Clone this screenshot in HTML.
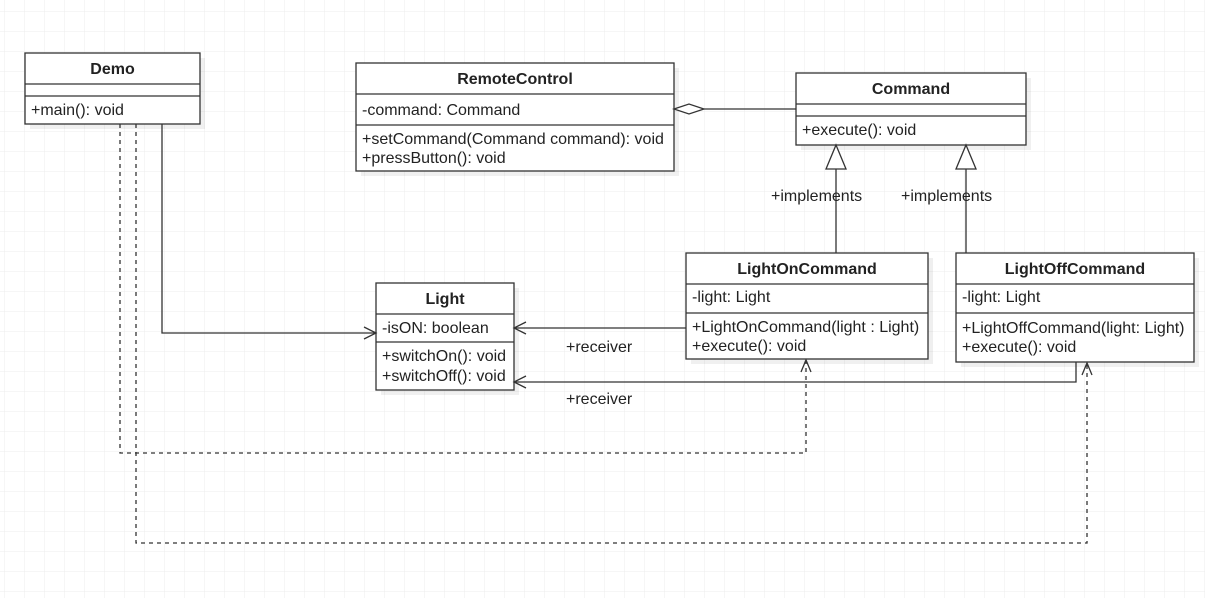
<!DOCTYPE html>
<html><head><meta charset="utf-8"><style>
html,body{margin:0;padding:0;background:#fff}
svg{display:block}
text{font-family:"Liberation Sans",Arial,sans-serif;font-size:16px;fill:#222}
.b{font-weight:bold;text-anchor:middle}
</style></head><body>
<svg width="1205" height="598" viewBox="0 0 1205 598" xmlns="http://www.w3.org/2000/svg">
<defs>
<pattern id="g" width="20" height="20" patternUnits="userSpaceOnUse" x="4" y="11">
<path d="M20 0H0V20" fill="none" stroke="#ececec" stroke-width="1"/>
</pattern>
</defs>
<rect width="1205" height="598" fill="#fff"/>
<rect width="1205" height="598" fill="url(#g)"/>
<g fill="#000" opacity="0.06">
<rect x="30" y="58" width="175" height="71"/>
<rect x="361" y="68" width="318" height="108"/>
<rect x="801" y="78" width="230" height="72"/>
<rect x="381" y="288" width="138" height="107"/>
<rect x="691" y="258" width="242" height="106"/>
<rect x="961" y="258" width="238" height="109"/>
</g>
<g fill="#fff" stroke="#333" stroke-width="1.3">
<rect x="25" y="53" width="175" height="71"/>
<line x1="25" y1="84" x2="200" y2="84"/><line x1="25" y1="96" x2="200" y2="96"/>
<rect x="356" y="63" width="318" height="108"/>
<line x1="356" y1="94" x2="674" y2="94"/><line x1="356" y1="125" x2="674" y2="125"/>
<rect x="796" y="73" width="230" height="72"/>
<line x1="796" y1="104" x2="1026" y2="104"/><line x1="796" y1="116" x2="1026" y2="116"/>
<rect x="376" y="283" width="138" height="107"/>
<line x1="376" y1="314" x2="514" y2="314"/><line x1="376" y1="342" x2="514" y2="342"/>
<rect x="686" y="253" width="242" height="106"/>
<line x1="686" y1="284" x2="928" y2="284"/><line x1="686" y1="313" x2="928" y2="313"/>
<rect x="956" y="253" width="238" height="109"/>
<line x1="956" y1="284" x2="1194" y2="284"/><line x1="956" y1="313" x2="1194" y2="313"/>
</g>
<text class="b" x="112.5" y="74">Demo</text>
<text x="31" y="115">+main(): void</text>
<text class="b" x="515" y="84">RemoteControl</text>
<text x="362" y="115">-command: Command</text>
<text x="362" y="144">+setCommand(Command command): void</text>
<text x="362" y="163">+pressButton(): void</text>
<text class="b" x="911" y="94">Command</text>
<text x="802" y="135">+execute(): void</text>
<text class="b" x="445" y="304">Light</text>
<text x="382" y="333">-isON: boolean</text>
<text x="382" y="361">+switchOn(): void</text>
<text x="382" y="381">+switchOff(): void</text>
<text class="b" x="807" y="274">LightOnCommand</text>
<text x="692" y="302">-light: Light</text>
<text x="692" y="332">+LightOnCommand(light : Light)</text>
<text x="692" y="351">+execute(): void</text>
<text class="b" x="1075" y="274">LightOffCommand</text>
<text x="962" y="302">-light: Light</text>
<text x="962" y="333">+LightOffCommand(light: Light)</text>
<text x="962" y="352">+execute(): void</text>
<g fill="none" stroke="#333" stroke-width="1.3">
<line x1="704" y1="109" x2="796" y2="109"/>
<path d="M674 109 L689 104 L704 109 L689 114 Z" fill="#fff"/>
<line x1="836" y1="169" x2="836" y2="253"/>
<path d="M836 145 L846 169 L826 169 Z" fill="#fff"/>
<line x1="966" y1="169" x2="966" y2="253"/>
<path d="M966 145 L976 169 L956 169 Z" fill="#fff"/>
<path d="M162 124 V333 H376"/>
<path d="M364 327 L376 333 L364 339"/>
<path d="M686 328 H514"/>
<path d="M526 322 L514 328 L526 334"/>
<path d="M1076 362 V382 H514"/>
<path d="M526 376 L514 382 L526 388"/>
<path d="M120 124 V453 H806 V360" stroke-dasharray="4 4"/>
<path d="M801 372 L806 360 L811 372"/>
<path d="M136 124 V543 H1087 V363" stroke-dasharray="4 4"/>
<path d="M1082 375 L1087 363 L1092 375"/>
</g>
<text x="771" y="201">+implements</text>
<text x="901" y="201">+implements</text>
<text x="566" y="352">+receiver</text>
<text x="566" y="404">+receiver</text>
</svg>
</body></html>
